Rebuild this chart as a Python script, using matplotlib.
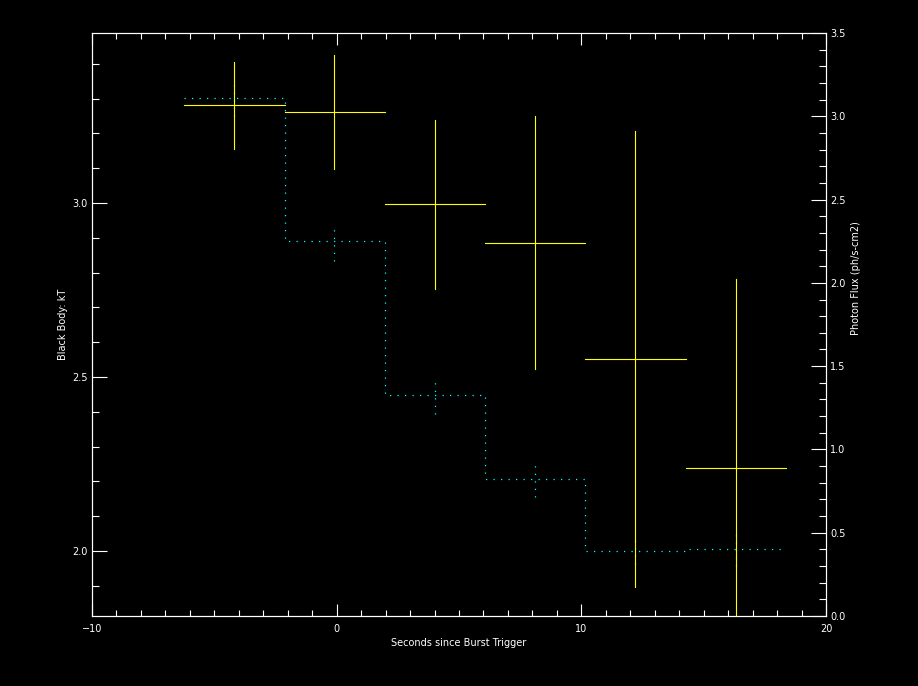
import numpy as np
import matplotlib
matplotlib.use("Agg")
import matplotlib.pyplot as plt
from matplotlib.ticker import MultipleLocator

# time bins (s since trigger)
t_lo = [-6.24, -2.12, 1.99, 6.08, 10.17, 14.27]
t_hi = [-2.12, 1.99, 6.08, 10.17, 14.27, 18.38]
t_mid = [-4.18, -0.10, 4.03, 8.12, 12.20, 16.33]

# black body kT with errors (left axis)
kT = [3.281, 3.261, 2.996, 2.885, 2.552, 2.238]
kT_top = [3.405, 3.425, 3.239, 3.250, 3.207, 2.782]
kT_bot = [3.155, 3.099, 2.754, 2.523, 1.897, 1.790]

# photon flux with errors (right axis)
flux = [3.107, 2.249, 1.325, 0.821, 0.388, 0.400]
flux_top = [3.21, 2.347, 1.427, 0.930, 0.47, 0.50]
flux_bot = [3.00, 2.129, 1.211, 0.712, 0.31, 0.30]

plt.rcParams['font.family'] = 'DejaVu Sans'
plt.rcParams['font.size'] = 7

fig = plt.figure(figsize=(9.18, 6.86), dpi=100, facecolor='black')
ax = fig.add_axes([92/918, 70/686, 734/918, 583/686])
ax2 = ax.twinx()
ax.set_zorder(ax2.get_zorder() + 1)
ax.patch.set_visible(False)
ax2.patch.set_visible(False)

yel = '#ffff00'
cy = '#00ffff'
dots = (0, (1, 5))

# flux steps (dotted)
ax2.stairs(flux, t_lo + [t_hi[-1]], baseline=None, color=cy, lw=0.9, linestyle=dots)
for i in range(len(flux)):
    ax2.plot([t_mid[i], t_mid[i]], [flux_bot[i], flux_top[i]], color=cy, lw=0.9, linestyle=dots)

# kT crosses
for i in range(len(kT)):
    ax.plot([t_lo[i], t_hi[i]], [kT[i], kT[i]], color=yel, lw=0.8)
    ax.plot([t_mid[i], t_mid[i]], [kT_bot[i], kT_top[i]], color=yel, lw=0.8)

ax.set_xlim(-10, 20)
ax.set_ylim(1.8132, 3.4885)
ax2.set_ylim(0, 3.5)

for a in (ax, ax2):
    for s in a.spines.values():
        s.set_color('white')
        s.set_linewidth(0.8)

ax.xaxis.set_major_locator(MultipleLocator(10))
ax.xaxis.set_minor_locator(MultipleLocator(1))
ax.yaxis.set_major_locator(MultipleLocator(0.5))
ax.yaxis.set_minor_locator(MultipleLocator(0.1))
ax2.yaxis.set_major_locator(MultipleLocator(0.5))
ax2.yaxis.set_minor_locator(MultipleLocator(0.1))
ax.yaxis.set_major_formatter(lambda v, p: f"{v:.1f}")
ax2.yaxis.set_major_formatter(lambda v, p: f"{v:.1f}")

ax.tick_params(axis='x', which='both', direction='in', top=True, bottom=True,
               colors='white', width=0.8, pad=6)
ax.tick_params(axis='x', which='major', length=8.4)
ax.tick_params(axis='x', which='minor', length=4.2)
ax.tick_params(axis='y', which='both', direction='in', left=True, right=False,
               colors='white', width=0.8, pad=3)
ax.tick_params(axis='y', which='major', length=10.6)
ax.tick_params(axis='y', which='minor', length=5.3)
ax2.tick_params(axis='y', which='both', direction='in', right=True, left=False,
                colors='white', width=0.8, pad=3)
ax2.tick_params(axis='y', which='major', length=10.6)
ax2.tick_params(axis='y', which='minor', length=5.3)

ax.set_xlabel('Seconds since Burst Trigger', color='white', labelpad=3)
ax.set_ylabel('Black Body: kT', color='white')
ax.yaxis.set_label_coords(-0.033, 0.5)
ax2.set_ylabel('Photon Flux (ph/s-cm2)', color='white')
ax2.yaxis.set_label_coords(1.034, 0.58)

fig.savefig('out.png', dpi=100, facecolor='black')
